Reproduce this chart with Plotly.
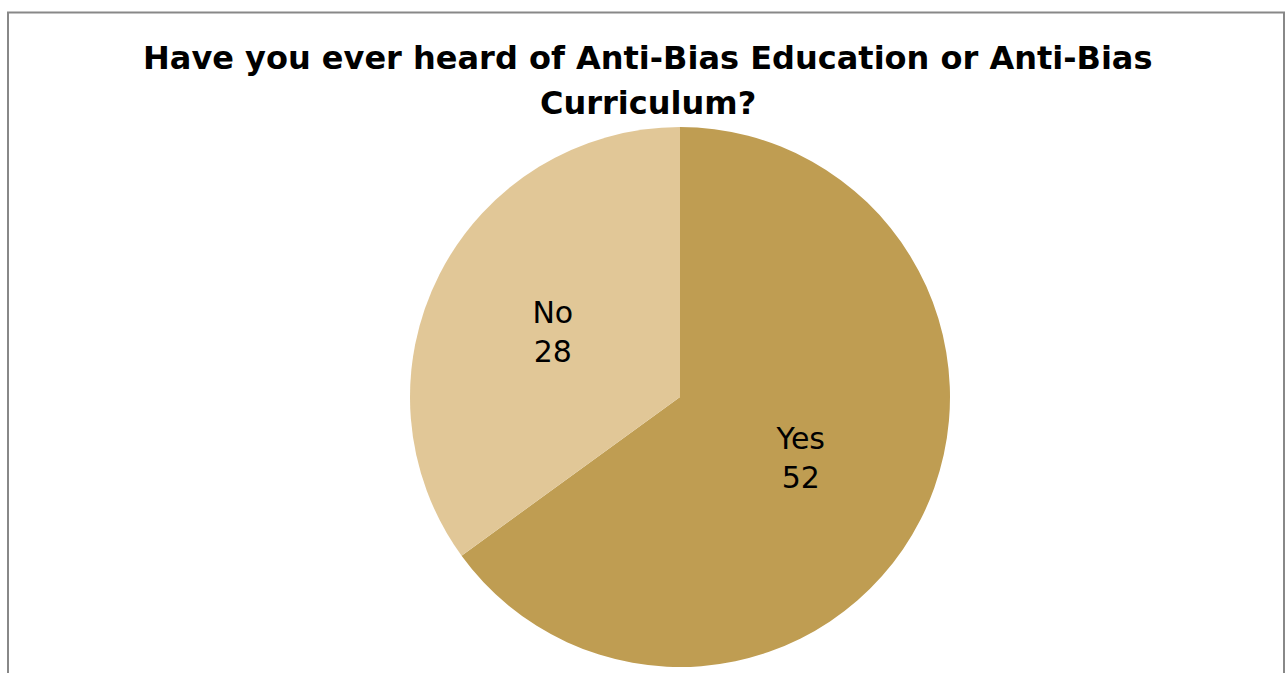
import plotly.graph_objects as go

labels = ["Yes", "No"]
values = [52, 28]
colors = ["#BF9D52", "#E1C797"]
title_lines = ["Have you ever heard of Anti-Bias Education or Anti-Bias", "Curriculum?"]

W, H = 1285, 673

fig = go.Figure(go.Pie(
    labels=labels,
    values=values,
    marker=dict(colors=colors, line=dict(width=0)),
    sort=False,
    direction="clockwise",
    rotation=0,
    textinfo="label+value",
    texttemplate="%{label}<br>%{value}",
    textposition="inside",
    insidetextorientation="horizontal",
    textfont=dict(family="DejaVu Sans", size=30, color="#000000"),
    domain=dict(x=[410 / W, 950 / W], y=[1 - 667 / H, 1 - 127 / H]),
    showlegend=False,
    hoverinfo="label+value",
))

title_y = [58, 103]
for line, yp in zip(title_lines, title_y):
    fig.add_annotation(
        text="<b>" + line + "</b>",
        x=648 / W, y=1 - yp / H, xref="paper", yref="paper",
        xanchor="center", yanchor="middle", showarrow=False,
        font=dict(family="DejaVu Sans", size=32, color="#000000"),
    )

fig.add_shape(type="rect", xref="paper", yref="paper",
              x0=8 / W, x1=1284 / W, y0=-0.2, y1=1 - 12.5 / H,
              line=dict(color="#888888", width=2), fillcolor="rgba(0,0,0,0)")

fig.update_layout(
    width=W, height=H,
    margin=dict(l=0, r=0, t=0, b=0),
    paper_bgcolor="white", plot_bgcolor="white",
)

fig.write_html("out.html")
